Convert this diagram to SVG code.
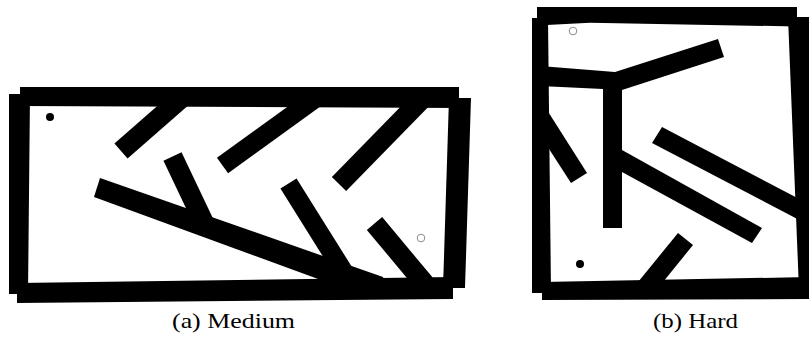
<svg xmlns="http://www.w3.org/2000/svg" width="809" height="341" viewBox="0 0 809 341">
<style>
.wall{fill:#000}
.bar{stroke:#000;stroke-width:20;fill:none;stroke-linecap:butt}
.solid{fill:#000}
.start{fill:#000}
.goal{fill:none;stroke:#8a8a8a;stroke-width:1}
.cap{font-family:"Liberation Serif","DejaVu Serif",serif;font-size:22px;fill:#000}
</style>
<rect x="0" y="0" width="809" height="341" fill="#fff"/>
<g id="panel-a">
  <g id="a-walls">
    <polygon class="wall" points="20,87 459,87 459,108 20,106"/>
    <polygon class="wall" points="9,94 30,94 28,294 9,294"/>
    <polygon class="wall" points="449,98 471,98 465,288 443,288"/>
    <polygon class="wall" points="17,283 453,277 453,299 17,303"/>
  </g>
  <g id="a-obstacles">
    <line class="bar" x1="121" y1="151" x2="185" y2="95"/>
    <polygon class="solid" points="100,178 383,277 386,290 370,298 94,197"/>
    <line class="bar" x1="172.5" y1="156.5" x2="206" y2="227"/>
    <line class="bar" x1="222.5" y1="165.5" x2="320" y2="95" style="stroke-width:19"/>
    <line class="bar" x1="339" y1="184" x2="426" y2="95"/>
    <line class="bar" x1="288.5" y1="183.5" x2="352" y2="285" style="stroke-width:19"/>
    <line class="bar" x1="374.5" y1="223.5" x2="425" y2="284"/>
  </g>
  <circle id="a-start" class="start" cx="50" cy="117" r="4"/>
  <circle id="a-goal" class="goal" cx="421" cy="238" r="3.8"/>
</g>
<g id="panel-b">
  <g id="b-walls">
    <polygon class="wall" points="537,7 797,7 797,26.5 590,22.7 537,25.5"/>
    <polygon class="wall" points="532,18 548,18 551,293 532,293"/>
    <polygon class="wall" points="788,17 809,17 809,290 799,290"/>
    <polygon class="wall" points="542,282 809,277 809,299 542,300"/>
  </g>
  <g id="b-obstacles">
    <polygon class="solid" points="540,66 615,72 718,39 724,57 622,90 622,228 603,228 603,89 540,86"/>
    <polygon class="solid" points="622,150 762,228 752,243 622,172"/>
    <polygon class="solid" points="662,127 805,202 805,223 652,143"/>
    <polygon class="solid" points="540,99 587,173 571,183 540,135"/>
    <polygon class="solid" points="678,233 693,245 659,287 634,287"/>
  </g>
  <circle id="b-start" class="start" cx="580" cy="264" r="4"/>
  <circle id="b-goal" class="goal" cx="573" cy="31" r="3.8"/>
</g>
<g id="captions">
  <text class="cap" x="172" y="328" textLength="123" lengthAdjust="spacingAndGlyphs">(a) Medium</text>
  <text class="cap" x="653" y="328" textLength="85" lengthAdjust="spacingAndGlyphs">(b) Hard</text>
</g>
</svg>
